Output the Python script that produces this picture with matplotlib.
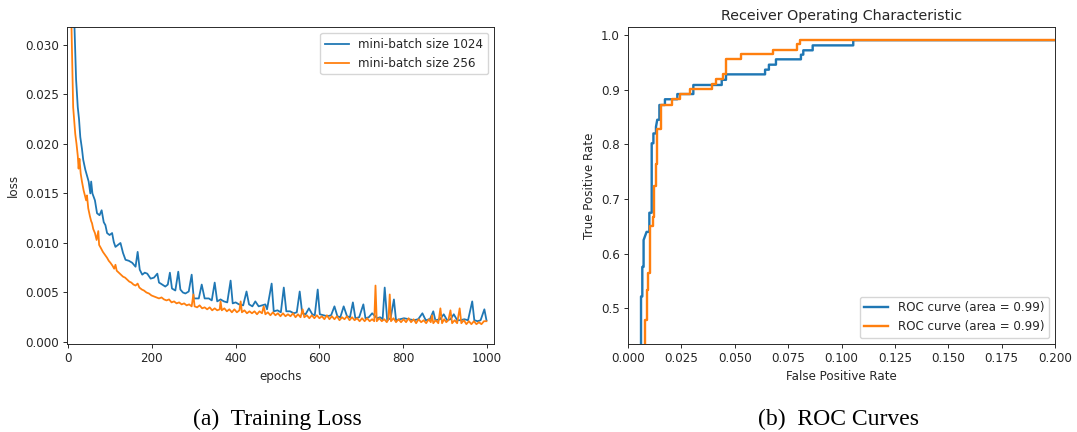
import matplotlib
matplotlib.use("Agg")
import matplotlib.pyplot as plt

# ---------------- training loss: (epoch, loss) ----------------
loss_1024 = [
    (0, 0.080), (5, 0.050), (10, 0.038), (15, 0.0320), (19, 0.0265), (23, 0.0237), (26, 0.0225),
    (29, 0.0207), (33, 0.0195), (36, 0.0184), (41, 0.0174), (45, 0.0168), (49, 0.0162),
    (53, 0.0150), (55, 0.0162), (58, 0.0150), (64, 0.0143), (69, 0.0130), (75, 0.0128),
    (80, 0.0133), (85, 0.0121), (89, 0.0118), (93, 0.0110), (99, 0.0108), (105, 0.0110),
    (109, 0.0101), (113, 0.0096), (119, 0.0098), (125, 0.0100), (131, 0.0090), (137, 0.0083),
    (145, 0.0082), (153, 0.0080), (161, 0.0076), (166, 0.0091), (171, 0.0073), (177, 0.0068),
    (183, 0.0070), (189, 0.0069), (197, 0.0064), (205, 0.0065), (213, 0.0069), (217, 0.0060),
    (221, 0.0059), (232, 0.0056), (238, 0.0058), (243, 0.0070), (248, 0.0054), (256, 0.0052),
    (263, 0.0071), (268, 0.0053), (274, 0.0050), (280, 0.0049), (288, 0.0051), (295, 0.0068),
    (300, 0.0044), (312, 0.0044), (319, 0.0058), (326, 0.0044), (336, 0.0044), (343, 0.0042),
    (350, 0.0060), (356, 0.0041), (364, 0.0043), (372, 0.0041), (380, 0.0040), (388, 0.0062),
    (393, 0.0039), (400, 0.0040), (408, 0.0038), (418, 0.0037), (426, 0.0051), (432, 0.0038),
    (440, 0.0036), (447, 0.0041), (455, 0.0036), (463, 0.0037), (471, 0.0038), (475, 0.0033),
    (486, 0.0059), (491, 0.0031), (500, 0.0032), (508, 0.0030), (515, 0.0055), (521, 0.0031),
    (530, 0.0031), (539, 0.0029), (546, 0.0030), (553, 0.0051), (559, 0.0029), (567, 0.0028),
    (575, 0.0034), (583, 0.0028), (589, 0.0027), (596, 0.0053), (601, 0.0028), (610, 0.0027),
    (619, 0.0026), (628, 0.0027), (636, 0.0036), (643, 0.0026), (650, 0.0025), (658, 0.0036),
    (666, 0.0026), (673, 0.0025), (680, 0.0040), (686, 0.0024), (695, 0.0025), (705, 0.0038),
    (710, 0.0024), (718, 0.0025), (726, 0.0029), (738, 0.0024), (745, 0.0025), (751, 0.0023),
    (756, 0.0055), (762, 0.0022), (770, 0.0024), (778, 0.0043), (783, 0.0022), (792, 0.0023),
    (802, 0.0024), (814, 0.0023), (826, 0.0022), (836, 0.0023), (846, 0.0029), (854, 0.0022),
    (864, 0.0023), (872, 0.0031), (877, 0.0022), (888, 0.0023), (897, 0.0028), (905, 0.0022),
    (913, 0.0023), (921, 0.0028), (929, 0.0022), (937, 0.0022), (946, 0.0023), (955, 0.0022),
    (965, 0.0041), (970, 0.0022), (978, 0.0021), (985, 0.0022), (994, 0.0033), (999, 0.0022),
]

loss_256 = [
    (0, 0.060), (4, 0.040), (8, 0.0318), (12, 0.0237), (17, 0.0210), (20, 0.0200), (23, 0.0188),
    (25, 0.0175), (27, 0.0185), (30, 0.0170), (33, 0.0162), (37, 0.0153), (40, 0.0148),
    (43, 0.0143), (45, 0.0148), (48, 0.0135), (52, 0.0127), (55, 0.0122), (57, 0.0120),
    (60, 0.0114), (64, 0.0110), (68, 0.0103), (72, 0.0112), (74, 0.0098), (78, 0.0095),
    (83, 0.0091), (88, 0.0088), (93, 0.0085), (97, 0.0082), (101, 0.0080), (106, 0.0077),
    (110, 0.0074), (113, 0.0078), (116, 0.0072), (121, 0.0070), (126, 0.0068), (131, 0.0066),
    (136, 0.0065), (141, 0.0063), (146, 0.0061), (151, 0.0060), (156, 0.0058), (161, 0.0057),
    (166, 0.0059), (170, 0.0055), (176, 0.0053), (181, 0.0052), (187, 0.0050), (193, 0.0049),
    (199, 0.0047), (205, 0.0046), (211, 0.0045), (217, 0.0044), (223, 0.0045), (229, 0.0043),
    (235, 0.0042), (241, 0.0043), (247, 0.0040), (253, 0.0041), (259, 0.0039), (265, 0.0040),
    (271, 0.0038), (277, 0.0039), (283, 0.0037), (289, 0.0038), (295, 0.0036), (299, 0.0048),
    (302, 0.0036), (308, 0.0035), (314, 0.0037), (320, 0.0034), (326, 0.0035), (332, 0.0033),
    (338, 0.0035), (344, 0.0032), (350, 0.0034), (356, 0.0032), (362, 0.0033), (364, 0.0041),
    (367, 0.0032), (373, 0.0034), (379, 0.0031), (385, 0.0033), (391, 0.0030), (397, 0.0033),
    (403, 0.0030), (409, 0.0032), (412, 0.0041), (415, 0.0030), (421, 0.0032), (427, 0.0029),
    (433, 0.0031), (439, 0.0029), (445, 0.0031), (451, 0.0028), (457, 0.0031), (463, 0.0029),
    (467, 0.0036), (471, 0.0028), (477, 0.0030), (483, 0.0027), (489, 0.0030), (495, 0.0027),
    (501, 0.0029), (507, 0.0026), (513, 0.0029), (519, 0.0026), (525, 0.0028), (531, 0.0026),
    (537, 0.0029), (543, 0.0025), (549, 0.0028), (555, 0.0025), (560, 0.0033), (564, 0.0025),
    (570, 0.0027), (576, 0.0024), (582, 0.0027), (588, 0.0024), (594, 0.0027), (600, 0.0024),
    (606, 0.0026), (612, 0.0023), (618, 0.0027), (624, 0.0023), (630, 0.0026), (636, 0.0023),
    (642, 0.0026), (648, 0.0022), (654, 0.0025), (660, 0.0023), (666, 0.0026), (672, 0.0022),
    (678, 0.0025), (684, 0.0022), (690, 0.0024), (696, 0.0021), (702, 0.0024), (708, 0.0021),
    (714, 0.0024), (720, 0.0021), (726, 0.0023), (731, 0.0021), (734, 0.0057), (737, 0.0021),
    (743, 0.0024), (749, 0.0021), (755, 0.0023), (761, 0.0020), (765, 0.0023), (768, 0.0048),
    (771, 0.0021), (777, 0.0024), (783, 0.0020), (789, 0.0023), (795, 0.0020), (801, 0.0023),
    (807, 0.0020), (813, 0.0024), (819, 0.0020), (825, 0.0023), (831, 0.0019), (837, 0.0023),
    (843, 0.0020), (849, 0.0022), (855, 0.0019), (861, 0.0023), (866, 0.0020), (869, 0.0027),
    (872, 0.0019), (878, 0.0022), (884, 0.0019), (889, 0.0034), (893, 0.0019), (898, 0.0023),
    (903, 0.0020), (908, 0.0022), (913, 0.0032), (917, 0.0019), (923, 0.0022), (929, 0.0019),
    (935, 0.0034), (939, 0.0019), (945, 0.0022), (951, 0.0018), (957, 0.0021), (963, 0.0018),
    (969, 0.0021), (975, 0.0018), (981, 0.0020), (987, 0.0018), (993, 0.0021), (999, 0.0021),
]

loss_labels = ["mini-batch size 1024", "mini-batch size 256"]

# ---------------- ROC curves: (false positive rate, true positive rate) ----------------
roc_a = [
    (0.0, 0.0), (0.0061, 0.0), (0.0061, 0.522), (0.0067, 0.522), (0.0067, 0.576),
    (0.0073, 0.576), (0.0073, 0.625), (0.0087, 0.640), (0.0100, 0.640), (0.0100, 0.675),
    (0.0111, 0.675), (0.0111, 0.802), (0.0119, 0.802), (0.0119, 0.820), (0.0131, 0.820),
    (0.0131, 0.832), (0.0137, 0.845), (0.0147, 0.845), (0.0147, 0.872), (0.0173, 0.872),
    (0.0173, 0.8825), (0.0231, 0.8825), (0.0231, 0.892), (0.0306, 0.892), (0.0306, 0.9086),
    (0.0439, 0.9086), (0.0439, 0.918), (0.0459, 0.918), (0.0459, 0.928), (0.0642, 0.928),
    (0.0642, 0.9366), (0.0660, 0.9366), (0.0660, 0.9457), (0.0693, 0.9457), (0.0693, 0.9555),
    (0.0810, 0.9555), (0.0810, 0.964), (0.0821, 0.964), (0.0821, 0.972), (0.0865, 0.972),
    (0.0865, 0.981), (0.1055, 0.981), (0.1055, 0.9905), (0.35, 0.9905), (1.0, 1.0),
]

roc_b = [
    (0.0, 0.0), (0.0080, 0.0), (0.0080, 0.479), (0.0087, 0.479), (0.0087, 0.534),
    (0.0095, 0.534), (0.0095, 0.564), (0.0103, 0.564), (0.0103, 0.650), (0.0116, 0.650),
    (0.0116, 0.668), (0.0123, 0.668), (0.0123, 0.723), (0.0131, 0.723), (0.0131, 0.765),
    (0.0137, 0.765), (0.0137, 0.829), (0.0155, 0.829), (0.0155, 0.872), (0.0205, 0.872),
    (0.0205, 0.8825), (0.0244, 0.8825), (0.0244, 0.892), (0.0290, 0.892), (0.0290, 0.901),
    (0.0392, 0.901), (0.0392, 0.910), (0.0412, 0.910), (0.0412, 0.919), (0.0444, 0.919),
    (0.0444, 0.928), (0.0459, 0.928), (0.0459, 0.9555), (0.0528, 0.9555), (0.0528, 0.9647),
    (0.0681, 0.9647), (0.0681, 0.973), (0.0793, 0.973), (0.0793, 0.983), (0.0806, 0.983),
    (0.0806, 0.9910), (0.35, 0.9910), (1.0, 1.0),
]

roc_labels = ["ROC curve (area = 0.99)", "ROC curve (area = 0.99)"]

captions = ["(a)  Training Loss", "(b)  ROC Curves"]

# ---------------- styling ----------------
s = 0.858  # panels were drawn at ~86 px per inch
plt.rcParams.update({
    "font.family": "DejaVu Sans",
    "font.size": 10 * s,
    "axes.linewidth": 0.8 * s,
    "xtick.major.size": 3.5 * s,
    "ytick.major.size": 3.5 * s,
    "xtick.major.width": 0.8 * s,
    "ytick.major.width": 0.8 * s,
    "xtick.major.pad": 3.5 * s,
    "ytick.major.pad": 3.5 * s,
    "axes.labelpad": 4 * s,
    "legend.fontsize": 10 * s,
    "axes.titlesize": 12 * s,
    "axes.titlepad": 6 * s,
    "text.color": "#262626",
    "axes.labelcolor": "#262626",
    "xtick.color": "#262626",
    "ytick.color": "#262626",
    "axes.edgecolor": "#262626",
})

W, H = 1077, 432
fig = plt.figure(figsize=(W / 100, H / 100), dpi=100)

blue, orange = "#1f77b4", "#ff7f0e"


def unzip(points):
    return [p[0] for p in points], [p[1] for p in points]


ax1 = fig.add_axes([67.3 / W, (H - 344) / H, 426.7 / W, 317 / H])
x, y = unzip(loss_1024)
ax1.plot(x, y, color=blue, lw=1.5 * s, label=loss_labels[0])
x, y = unzip(loss_256)
ax1.plot(x, y, color=orange, lw=1.5 * s, label=loss_labels[1])
ax1.set_xlim(-2, 1017)
ax1.set_ylim(-0.0002, 0.0318)
ax1.set_xticks([0, 200, 400, 600, 800, 1000])
ax1.set_yticks([0.000, 0.005, 0.010, 0.015, 0.020, 0.025, 0.030])
ax1.set_xlabel("epochs")
ax1.set_ylabel("loss")
ax1.legend(loc="upper right")

ax2 = fig.add_axes([628 / W, (H - 344) / H, 427 / W, 317 / H])
x, y = unzip(roc_a)
ax2.plot(x, y, color=blue, lw=2 * s, label=roc_labels[0])
x, y = unzip(roc_b)
ax2.plot(x, y, color=orange, lw=2 * s, label=roc_labels[1])
ax2.set_xlim(0.0, 0.2)
ax2.set_ylim(0.435, 1.0146)
xt = [0.0, 0.025, 0.05, 0.075, 0.1, 0.125, 0.15, 0.175, 0.2]
ax2.set_xticks(xt)
ax2.set_xticklabels([f"{v:.3f}" for v in xt])
ax2.set_yticks([0.5, 0.6, 0.7, 0.8, 0.9, 1.0])
ax2.set_xlabel("False Positive Rate")
ax2.set_ylabel("True Positive Rate")
ax2.set_title("Receiver Operating Characteristic")
ax2.legend(loc="lower right")

for ax, cap in zip((ax1, ax2), captions):
    pos = ax.get_position()
    fig.text(pos.x0 + pos.width / 2 - 3 / W, 1 - 419 / H, cap, ha="center", va="center",
             family="Liberation Serif", fontsize=17, color="black")

fig.savefig("out.png", dpi=100, facecolor="white")
